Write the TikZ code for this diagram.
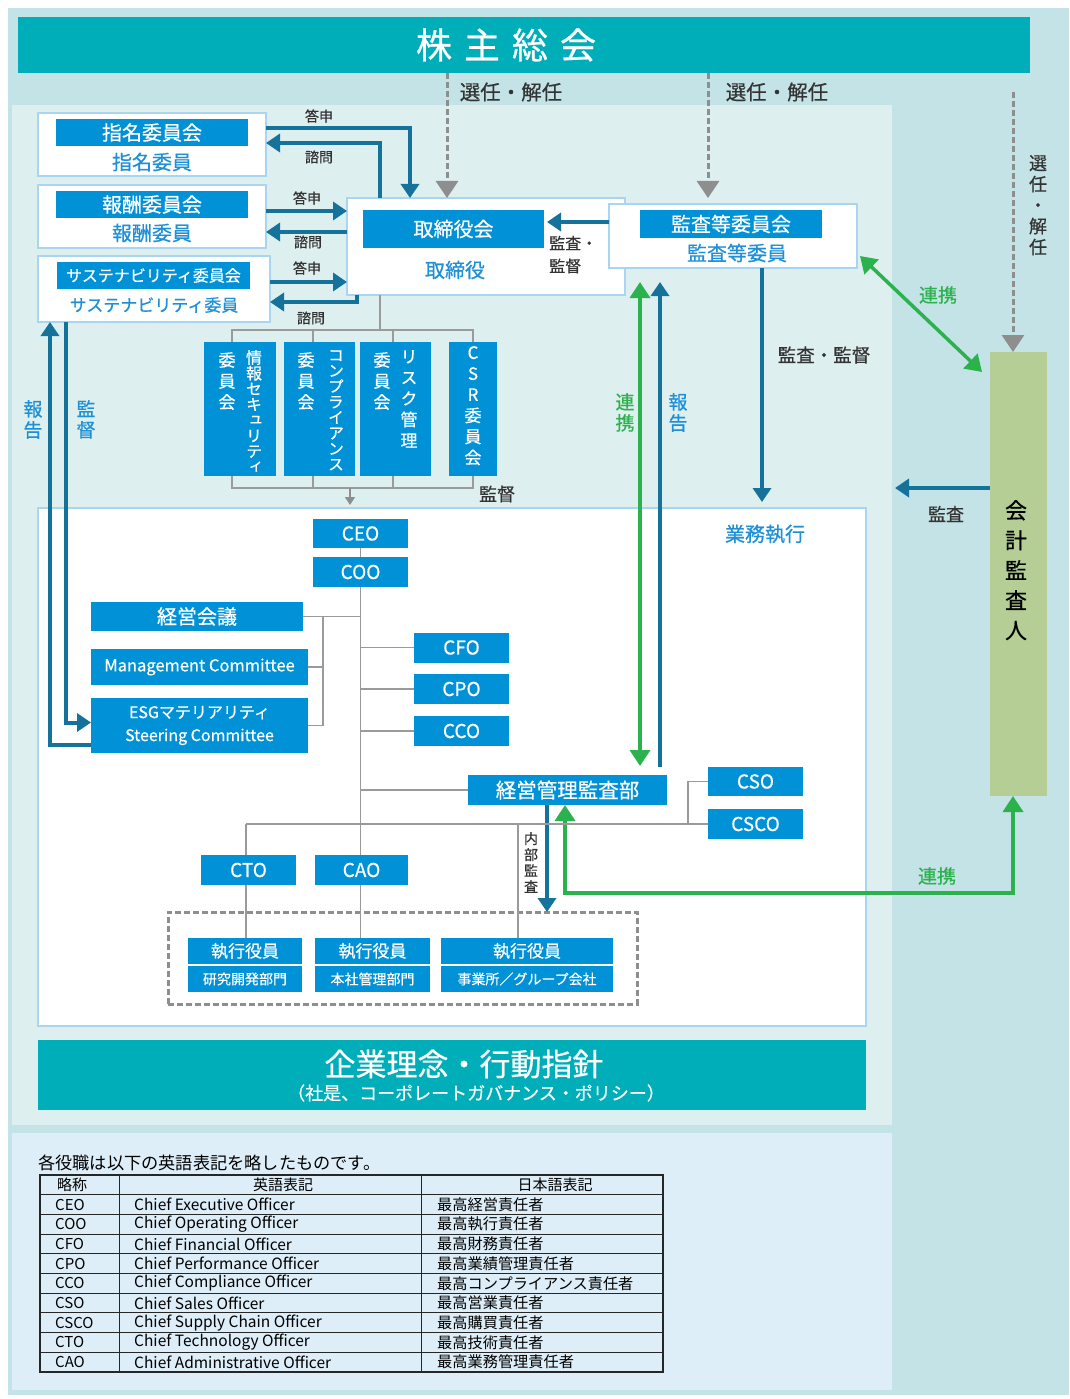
\documentclass[tikz,border=0pt]{standalone}
\usepackage{fontspec}
\setmainfont{Noto Sans CJK JP}
\newfontfamily\bjp{Noto Sans CJK JP}[FakeBold=0.6]
\newfontfamily\rjp{Noto Sans CJK JP}
\newfontfamily\vjp{Noto Sans CJK JP}[RawFeature=+vert, FakeBold=0.6]
\usetikzlibrary{arrows.meta,calc}
\newcommand\myfs[1]{\fontsize{#1}{#1}\selectfont}
\definecolor{cBg}{HTML}{C3E3E6}
\definecolor{cPanel}{HTML}{DEEFF0}
\definecolor{cTab}{HTML}{DDEEF8}
\definecolor{cTeal}{HTML}{00AEB9}
\definecolor{cBlue}{HTML}{0091D6}
\definecolor{cArr}{HTML}{15729A}
\definecolor{cGreen}{HTML}{2BB24C}
\definecolor{cGray}{HTML}{8E8E8E}
\definecolor{cLine}{HTML}{9A9A9A}
\definecolor{cAcc}{HTML}{B4CE96}
\definecolor{cBtxt}{HTML}{1F90D6}
\definecolor{cBord}{HTML}{A9D5F0}
\definecolor{cTxt}{HTML}{333333}
\begin{document}
\bjp
\begin{tikzpicture}[x=1pt,y=-1pt,
  box/.style={inner sep=0pt, outer sep=0pt},
  bbox/.style={box, fill=cBlue, text=white},
  wbox/.style={box, fill=white, draw=cBord, line width=1.5pt},
  tarr/.style={draw=cArr, line width=4pt, -{Triangle[width=18pt,length=14pt]}},
  garr/.style={draw=cGreen, line width=3.5pt, {Triangle[width=20pt,length=16pt]}-{Triangle[width=20pt,length=16pt]}},
  darr/.style={draw=cGray, line width=3pt, dash pattern=on 6pt off 3pt, -{Triangle[width=22pt,length=17pt]}},
  gline/.style={draw=cLine, line width=1.5pt},
  lbl/.style={inner sep=0pt, text=cTxt},
  vt/.style={inner sep=0pt, align=center, anchor=north},
]
\useasboundingbox (0,0) rectangle (1069,1399);
% backgrounds
\fill[cBg] (8,8) rectangle (1069,1395);
\fill[cPanel] (12,105) rectangle (892,1125);
\fill[cTab] (12,1133) rectangle (892,1390);

% top bar
\node[box, fill=cTeal, minimum width=1012pt, minimum height=56pt] (smt) at (524,45) {};
\node[lbl, text=white, font=\myfs{36}] (smtt) at (506,45) {株\hspace{12pt}主\hspace{12pt}総\hspace{12pt}会};

% committees
\node[wbox, minimum width=228pt, minimum height=63pt] (nom) at (152,144.5) {};
\node[bbox, minimum width=192pt, minimum height=27pt, font=\myfs{20}] (nomb) at (152,132.5) {指名委員会};
\node[lbl, text=cBtxt, font=\myfs{20}] (nomt) at (152,162) {指名委員};

\node[wbox, minimum width=228pt, minimum height=63pt] (rem) at (152,216.5) {};
\node[bbox, minimum width=192pt, minimum height=27pt, font=\myfs{20}] (remb) at (152,204.5) {報酬委員会};
\node[lbl, text=cBtxt, font=\myfs{20}] (remt) at (152,233) {報酬委員};

\node[wbox, minimum width=232pt, minimum height=66pt] (sus) at (154,289) {};
\node[bbox, minimum width=193pt, minimum height=27pt, font=\myfs{16}] (susb) at (153.5,275.5) {サステナビリティ委員会};
\node[lbl, text=cBtxt, font=\myfs{17}] (sust) at (154,305) {サステナビリティ委員};

\node[wbox, minimum width=278pt, minimum height=97pt] (brd) at (486,246.5) {};
\node[bbox, minimum width=181pt, minimum height=38pt, font=\myfs{20}] (brdb) at (453.5,229) {取締役会};
\node[lbl, text=cBtxt, font=\myfs{20}] (brdt) at (455,270) {取締役};

\node[wbox, minimum width=248pt, minimum height=64pt] (aud) at (733,236) {};
\node[bbox, minimum width=182pt, minimum height=28pt, font=\myfs{20}] (audb) at (731,224) {監査等委員会};
\node[lbl, text=cBtxt, font=\myfs{20}] (audt) at (737,253) {監査等委員};

% accounting auditor
\node[box, fill=cAcc, minimum width=57pt, minimum height=444pt] (kai) at (1018.5,574) {};
\node[vt, text=black, font=\vjp\fontsize{22}{30}\selectfont] (kait) at (1016,500) {会\\計\\監\\査\\人};

% vertical committees
\node[bbox, minimum width=72pt, minimum height=134pt] (c1) at (240,409) {};
\node[vt, text=white, font=\vjp\fontsize{16}{15.6}\selectfont] (c1r) at (254,350) {情\\報\\セ\\キ\\ュ\\リ\\テ\\ィ};
\node[vt, text=white, font=\vjp\fontsize{17}{21}\selectfont] (c1l) at (227,352) {委\\員\\会};
\node[bbox, minimum width=71pt, minimum height=134pt] (c2) at (319.5,409) {};
\node[vt, text=white, font=\vjp\fontsize{16}{15.6}\selectfont] (c2r) at (336,350) {コ\\ン\\プ\\ラ\\イ\\ア\\ン\\ス};
\node[vt, text=white, font=\vjp\fontsize{17}{21}\selectfont] (c2l) at (306,352) {委\\員\\会};
\node[bbox, minimum width=71pt, minimum height=134pt] (c3) at (395.5,409) {};
\node[vt, text=white, font=\vjp\fontsize{17}{21}\selectfont] (c3r) at (409,350) {リ\\ス\\ク\\管\\理};
\node[vt, text=white, font=\vjp\fontsize{17}{21}\selectfont] (c3l) at (382,352) {委\\員\\会};
\node[bbox, minimum width=48pt, minimum height=134pt] (c4) at (473,409) {};
\node[vt, text=white, font=\vjp\fontsize{17}{21}\selectfont] (c4t) at (473,346) {C\\S\\R\\委\\員\\会};

% execution panel
\node[box, fill=white, draw=cBord, line width=2pt, minimum width=828pt, minimum height=518pt] (gyo) at (452,767) {};
\node[lbl, text=cBtxt, font=\myfs{20}] (gyot) at (765,534) {業務執行};

\node[bbox, minimum width=95pt, minimum height=29pt, font=\myfs{19}] (ceo) at (360.5,533.5) {CEO};
\node[bbox, minimum width=95pt, minimum height=30pt, font=\myfs{19}] (coo) at (360.5,572) {COO};
\node[bbox, minimum width=212pt, minimum height=29pt, font=\myfs{20}] (kei) at (197,616.5) {経営会議};
\node[bbox, minimum width=217pt, minimum height=36pt, font=\myfs{16.5}] (mgt) at (199.5,667) {Management Committee};
\node[bbox, minimum width=217pt, minimum height=55pt, align=center, font=\fontsize{16}{23}\selectfont] (esg) at (199.5,725.5) {ESGマテリアリティ\\Steering Committee};
\node[bbox, minimum width=95pt, minimum height=30pt, font=\myfs{19}] (cfo) at (461.5,647.5) {CFO};
\node[bbox, minimum width=95pt, minimum height=30pt, font=\myfs{19}] (cpo) at (461.5,689) {CPO};
\node[bbox, minimum width=95pt, minimum height=30pt, font=\myfs{19}] (cco) at (461.5,731) {CCO};
\node[bbox, minimum width=199pt, minimum height=30pt, font=\myfs{20.5}] (kan) at (567.5,790) {経営管理監査部};
\node[bbox, minimum width=95pt, minimum height=29pt, font=\myfs{19}] (cso) at (755.5,781.5) {CSO};
\node[bbox, minimum width=95pt, minimum height=30pt, font=\myfs{19}] (csco) at (755.5,824) {CSCO};
\node[bbox, minimum width=95pt, minimum height=30pt, font=\myfs{19}] (cto) at (248.5,870) {CTO};
\node[bbox, minimum width=93pt, minimum height=30pt, font=\myfs{19}] (cao) at (361.5,870) {CAO};

\node[box, draw=cGray, line width=3pt, dash pattern=on 6pt off 3pt, minimum width=469pt, minimum height=92pt] (dash) at (402.5,958) {};
\node[bbox, minimum width=114pt, minimum height=26pt, font=\myfs{17}] (ex1a) at (245,951) {執行役員};
\node[bbox, minimum width=114pt, minimum height=26pt, font=\myfs{14}] (ex1b) at (245,979) {研究開発部門};
\node[bbox, minimum width=115pt, minimum height=26pt, font=\myfs{17}] (ex2a) at (372.5,951) {執行役員};
\node[bbox, minimum width=115pt, minimum height=26pt, font=\myfs{14}] (ex2b) at (372.5,979) {本社管理部門};
\node[bbox, minimum width=172pt, minimum height=26pt, font=\myfs{17}] (ex3a) at (527,951) {執行役員};
\node[bbox, minimum width=172pt, minimum height=26pt, font=\myfs{14}] (ex3b) at (527,979) {事業所／グループ会社};

% philosophy bar
\node[box, fill=cTeal, minimum width=828pt, minimum height=70pt] (rin) at (452,1075) {};
\node[lbl, text=white, font=\myfs{31}] (rin1) at (464,1064) {企業理念・行動指針};
\node[lbl, text=white, font=\myfs{18}] (rin2) at (476,1093) {（社是、コーポレートガバナンス・ポリシー）};

% ---------- connectors ----------
\coordinate (s1) at ($(smt.south)+(-77,0)$);
\coordinate (s2) at ($(smt.south)+(184,0)$);
\coordinate (s3) at ($(smt.south east)+(-17,19)$);
\draw[darr] (s1) -- (s1 |- brd.north);
\draw[darr] (s2) -- ($(s2 |- aud.north)+(0,-6)$);
\draw[darr] (s3) -- (s3 |- kai.north);

\draw[tarr] ($(nom.east)+(0,-16)$) -| ($(brd.north)+(-76,0)$);
\draw[tarr] ($(brd.north)+(-106,0)$) |- ($(nom.east)+(0,-1.5)$);
\coordinate (ra) at ($(rem.east)+(0,-5.5)$);
\coordinate (rb) at ($(rem.east)+(0,15.5)$);
\draw[tarr] (ra) -- (ra -| brd.west);
\draw[tarr] (rb -| brd.west) -- (rb);
\coordinate (sa) at ($(sus.east)+(0,-7)$);
\draw[tarr] (sa) -- (sa -| brd.west);
\draw[tarr] ($(brd.south west)+(10,0)$) |- ($(sus.east)+(0,13)$);

\coordinate (ac) at ($(aud.west)+(0,-14)$);
\draw[tarr] (ac) -- ($(ac -| brdb.east)+(3,0)$);
\coordinate (ad) at ($(aud.south)+(29,0)$);
\draw[tarr] (ad) -- ($(ad |- gyo.north)+(0,-6)$);
\draw[garr] ($(aud.east)+(3,20)$) -- ($(kai.north west)+(-8,20)$);
\draw[garr] ($(kan.north)+(72.5,-9)$) -- ($(aud.south west)+(31,14)$);
\draw[tarr] ($(kan.north)+(92.5,-8)$) -- ($(aud.south west)+(51,14)$);
\draw[garr] ($(kan.south)+(-2.5,0)$) |- ($(kai.south)+(-5.5,97)$) -- ($(kai.south)+(-5.5,0)$);
\coordinate (ka) at ($(kai.west)+(0,-86)$);
\coordinate (kb) at ($(ka)+(-95,0)$);
\draw[tarr] (ka) -- (kb);
\coordinate (n1) at ($(kan.south)+(-20.5,0)$);
\draw[tarr] (n1) -- (n1 |- dash.north);
\draw[tarr] ($(esg.west)+(0,19)$) -| ($(sus.south west)+(12,0)$);
\draw[tarr] ($(sus.south west)+(28,0)$) |- ($(esg.west)+(0,-3)$);

% committees tree
\draw[gline] ($(brd.south west)+(33,0)$) -- ++(0,35);
\draw[gline] ($(c1.north)+(-8,0)$) |- ($(c4.north)+(0,-12)$) -- (c4.north);
\draw[gline] ($(c2.north)+(-6.5,0)$) -- ++(0,-12);
\draw[gline] ($(c3.north)+(-2.5,0)$) -- ++(0,-12);
\draw[gline] ($(c1.south)+(-8,0)$) |- ($(c4.south)+(0,12)$) -- (c4.south);
\draw[gline] ($(c2.south)+(-6.5,0)$) -- ++(0,12);
\draw[gline] ($(c3.south)+(-2.5,0)$) -- ++(0,12);
\draw[draw=cGray, line width=1.5pt, -{Triangle[width=10pt,length=8pt]}] ($(c2.south)+(30.5,12)$) -- ($(c2.south)+(30.5,29)$);

% execution tree
\draw[gline] (ceo.south) -- (coo.north);
\draw[gline] (coo.south) -- (coo.south |- cao.north);
\draw[gline] (coo.south |- cao.south) -- (coo.south |- ex2a.north);
\draw[gline] (kei.east) -- (kei.east -| coo.south);
\draw[gline] ($(kei.east)+(20,0)$) |- (esg.east);
\draw[gline] (mgt.east) -- ++(15,0);
\draw[gline] (cfo.west) -- (cfo.west -| coo.south);
\draw[gline] (cpo.west) -- (cpo.west -| coo.south);
\draw[gline] (cco.west) -- (cco.west -| coo.south);
\draw[gline] (kan.west) -- (kan.west -| coo.south);
\coordinate (h1) at ($(cto.north)+(-2.5,-31)$);
\draw[gline] (h1) -- (h1 -| csco.west);
\draw[gline] ($(csco.west)+(-20,0)$) |- (cso.west);
\draw[gline] (h1) -- (h1 |- cto.north);
\draw[gline] (h1 |- cto.south) -- (h1 |- ex1a.north);
\coordinate (r1) at ($(ex3a.north)+(-9,0)$);
\draw[gline] (r1) -- (r1 |- h1);

% ---------- labels ----------
\node[lbl, font=\myfs{14}] (l1) at (319,116) {答申};
\node[lbl, font=\myfs{14}] (l2) at (319,157) {諮問};
\node[lbl, font=\myfs{14}] (l3) at (307,198) {答申};
\node[lbl, font=\myfs{14}] (l4) at (308,242) {諮問};
\node[lbl, font=\myfs{14}] (l5) at (307,268) {答申};
\node[lbl, font=\myfs{14}] (l6) at (311,318) {諮問};
\node[lbl, font=\myfs{20.5}] (l7) at (511,92) {選任・解任};
\node[lbl, font=\myfs{20.5}] (l8) at (777,92) {選任・解任};
\node[vt, text=cTxt, font=\vjp\fontsize{18}{21}\selectfont] (l9) at (1038,155) {選\\任\\・\\解\\任};
\node[lbl, anchor=west, font=\myfs{16}] (l10) at (549,243) {監査・};
\node[lbl, anchor=west, font=\myfs{16}] (l11) at (549,266) {監督};
\node[lbl, font=\myfs{18.5}] (l12) at (824,355) {監査・監督};
\node[lbl, text=cGreen, font=\myfs{19}] (l13) at (938,295) {連携};
\node[vt, text=cGreen, font=\vjp\fontsize{19}{21}\selectfont] (l14) at (625,393) {連\\携};
\node[vt, text=cBtxt, font=\vjp\fontsize{19}{21}\selectfont] (l15) at (678,393) {報\\告};
\node[vt, text=cBtxt, font=\vjp\fontsize{19}{21}\selectfont] (l16) at (33,400) {報\\告};
\node[vt, text=cBtxt, font=\vjp\fontsize{19}{21}\selectfont] (l17) at (86,400) {監\\督};
\node[lbl, font=\myfs{18}] (l18) at (497,494) {監督};
\node[lbl, font=\myfs{18}] (l19) at (946,514) {監査};
\node[lbl, text=cGreen, font=\myfs{19}] (l20) at (937,876) {連携};
\node[vt, text=cTxt, font=\vjp\fontsize{14}{16}\selectfont] (l21) at (531,832) {内\\部\\監\\査};

% ---------- table ----------
\node[lbl, anchor=west, text=black, font=\rjp\myfs{17.2}] (cap) at (38,1163) {各役職は以下の英語表記を略したものです。};
\draw[black!85, line width=1.2pt] (40,1175) rectangle (663,1372);
\foreach \i in {1,...,9} \draw[black!85, line width=1pt] (40,{1175+19.7*\i}) -- (663,{1175+19.7*\i});
\draw[black!85, line width=1pt] (119,1175) -- (119,1372);
\draw[black!85, line width=1pt] (421,1175) -- (421,1372);
\node[lbl, text=black, font=\rjp\myfs{15}] (th1) at (72,1185) {略称};
\node[lbl, text=black, font=\rjp\myfs{15}] (th2) at (283,1185) {英語表記};
\node[lbl, text=black, font=\rjp\myfs{15}] (th3) at (555,1185) {日本語表記};
\foreach \a/\e/\j [count=\i] in {CEO/Chief Executive Officer/最高経営責任者,
  COO/Chief Operating Officer/最高執行責任者,
  CFO/Chief Financial Officer/最高財務責任者,
  CPO/Chief Performance Officer/最高業績管理責任者,
  CCO/Chief Compliance Officer/最高コンプライアンス責任者,
  CSO/Chief Sales Officer/最高営業責任者,
  CSCO/Chief Supply Chain Officer/最高購買責任者,
  CTO/Chief Technology Officer/最高技術責任者,
  CAO/Chief Administrative Officer/最高業務管理責任者} {
  \node[lbl, anchor=west, text=black, font=\rjp\myfs{15}] (ta\i) at (55,{1175+19.7*\i+9.85}) {\a};
  \node[lbl, anchor=west, text=black, font=\rjp\myfs{15.5}] (te\i) at (134,{1175+19.7*\i+9.85}) {\e};
  \node[lbl, anchor=west, text=black, font=\rjp\myfs{15.2}] (tj\i) at (437,{1175+19.7*\i+9.85}) {\j};
}
\end{tikzpicture}
\end{document}
